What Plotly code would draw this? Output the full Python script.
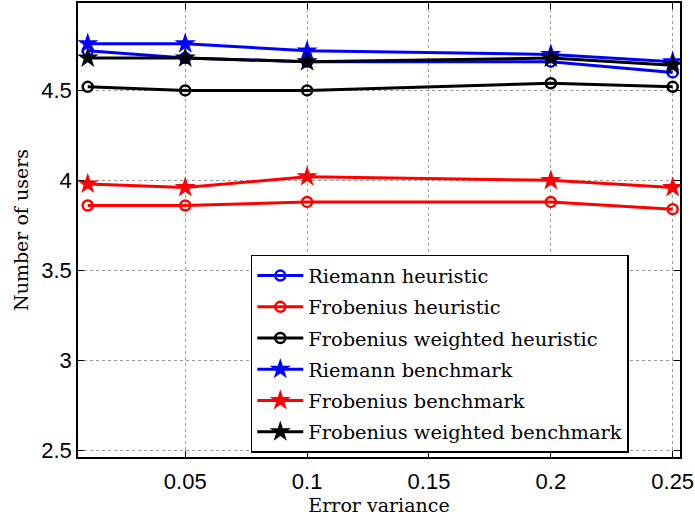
import plotly.graph_objects as go

# Error variance levels
error_variance = [0.01, 0.05, 0.1, 0.2, 0.25]

# Average number of users per method
riemann_heuristic = [4.72, 4.68, 4.66, 4.66, 4.60]
frobenius_heuristic = [3.86, 3.86, 3.88, 3.88, 3.84]
frob_weighted_heuristic = [4.52, 4.50, 4.50, 4.54, 4.52]
riemann_benchmark = [4.76, 4.76, 4.72, 4.70, 4.66]
frobenius_benchmark = [3.98, 3.96, 4.02, 4.00, 3.96]
frob_weighted_benchmark = [4.68, 4.68, 4.66, 4.68, 4.64]

x_ticks = [0.05, 0.1, 0.15, 0.2, 0.25]
x_tick_labels = ["0.05", "0.1", "0.15", "0.2", "0.25"]
y_ticks = [2.5, 3, 3.5, 4, 4.5]
y_tick_labels = ["2.5", "3", "3.5", "4", "4.5"]

series = [
    ("Riemann heuristic", riemann_heuristic, "blue", "circle-open", 10),
    ("Frobenius heuristic", frobenius_heuristic, "red", "circle-open", 10),
    ("Frobenius weighted heuristic", frob_weighted_heuristic, "black", "circle-open", 10),
    ("Riemann benchmark", riemann_benchmark, "blue", "star", 16),
    ("Frobenius benchmark", frobenius_benchmark, "red", "star", 16),
    ("Frobenius weighted benchmark", frob_weighted_benchmark, "black", "star", 16),
]

fig = go.Figure()
for i, (name, vals, color, symbol, size) in enumerate(series):
    fig.add_trace(go.Scatter(
        x=error_variance, y=vals, name=name, mode="lines+markers",
        line=dict(color=color, width=3),
        marker=dict(symbol=symbol, size=size, color=color,
                    line=dict(color=color, width=2.5 if "open" in symbol else 0)),
        legendgroup="g%d" % i,
    ))

serif = "DejaVu Serif, serif"

axis_common = dict(
    showline=True, linecolor="black", linewidth=1.5, mirror="ticks",
    ticks="inside", ticklen=6, tickcolor="black", tickwidth=1,
    showgrid=True, gridcolor="#9a9a9a", gridwidth=1, griddash="dot",
    zeroline=False, ticklabeloverflow="allow",
    tickfont=dict(family="Liberation Sans, Arial, sans-serif", size=22, color="black"),
)

fig.update_layout(
    width=695, height=525,
    margin=dict(l=78, r=7, t=1, b=68),
    paper_bgcolor="white", plot_bgcolor="white",
    xaxis=dict(range=[0.006, 0.253], tickvals=x_ticks, ticktext=x_tick_labels,
               ticklabelstandoff=4,
               title=dict(text="Error variance", standoff=4,
                          font=dict(family=serif, size=19, color="black")),
               **axis_common),
    yaxis=dict(range=[2.462, 4.986], tickvals=y_ticks, ticktext=y_tick_labels,
               title=dict(text="Number of users", standoff=8,
                          font=dict(family=serif, size=19, color="black")),
               **axis_common),
    legend=dict(
        x=0.287, y=0.445, xanchor="left", yanchor="top",
        bgcolor="white", bordercolor="black", borderwidth=1.5,
        font=dict(family=serif, size=19.4, color="black"),
        itemwidth=46, tracegroupgap=3,
    ),
    showlegend=True,
)

fig.write_html("out.html")
